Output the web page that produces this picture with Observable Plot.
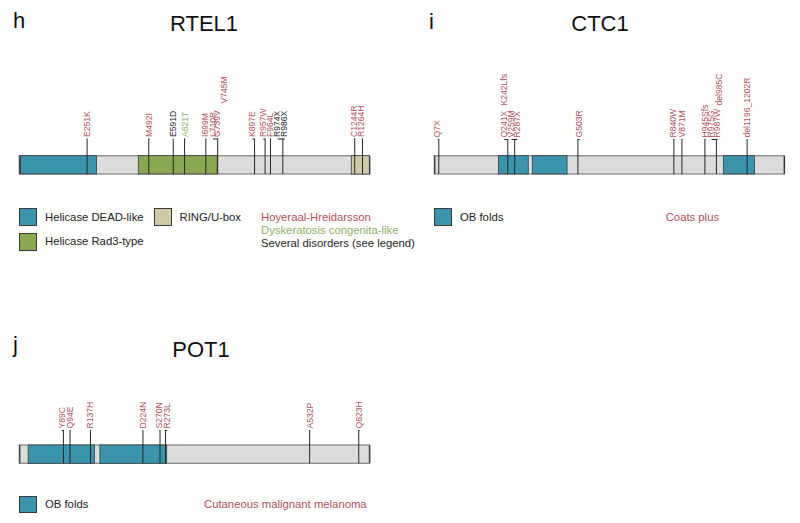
<!DOCTYPE html>
<html><head><meta charset="utf-8">
<script src="https://cdn.jsdelivr.net/npm/d3@7"></script>
<script src="https://cdn.jsdelivr.net/npm/@observablehq/plot@0.6"></script>
<style>
body{margin:0;background:#fff;font-family:"Liberation Sans",Arial,sans-serif;}
#fig{position:relative;width:800px;height:523px;overflow:hidden;}
.t{position:absolute;white-space:nowrap;}
.sw{position:absolute;width:18px;height:18px;border:1px solid #3a3a3a;box-sizing:border-box;}
.panel{position:absolute;}
</style></head><body><div id="fig"></div>
<script>
// ---------------- DATA ----------------
// RTEL1
const rtelLength = 1300;
const rtelDomainNames = ["Helicase DEAD-like", "Helicase Rad3-type", "RING/U-box"];
const rtelDomainStart = [4, 442, 1233];
const rtelDomainEnd = [287, 735, 1300];
const rtelMutations = ["E251K","M492I","E591D","A621T","I699M","L710R","G739V","V745M","K897E","R957W","F964L","R974X","R986X","C1244R","R1264H"];
const rtelSites     = [250, 479, 570, 612, 691, 735, 735, 735, 872, 911, 931, 977, 977, 1244, 1273];
const rtelLabelAt   = [249, 482, 570, 614, 690, 718, 733, 758, 864, 904, 929, 958, 984, 1241, 1270];
const rtelTier      = [1,1,1,1,1,1,1,2,1,1,1,1,1,1,1];
const rtelDisease   = ["HH","HH","SEV","DC","HH","HH","HH","HH","HH","HH","HH","SEV","SEV","HH","HH"];
const rtelDiseaseNames = ["Hoyeraal-Hreidarsson", "Dyskeratosis congenita-like", "Several disorders (see legend)"];

// CTC1
const ctcLength = 1217;
const ctcDomainNames = ["OB folds", "OB folds", "OB folds"];
const ctcDomainStart = [223, 341, 1006];
const ctcDomainEnd = [327, 462, 1114];
const ctcMutations = ["Q7X","Q241X","K242Lfs","V259M","R287X","G503R","R840W","V871M","H945Sfs","R975G","R987W","del985C","del1196_1202R"];
const ctcSites     = [14, 254, 254, 278, 278, 498, 832, 860, 940, 980, 980, 980, 1087];
const ctcLabelAt   = [10, 242, 243, 267, 287, 504, 830, 862, 942, 963, 984, 990, 1087];
const ctcTier      = [1,1,2,1,1,1,1,1,1,1,1,2,1];
const ctcDiseaseNames = ["Coats plus"];

// POT1
const potLength = 634;
const potDomainNames = ["OB folds", "OB folds"];
const potDomainStart = [16, 146];
const potDomainEnd = [136, 267];
const potMutations = ["Y89C","Q94E","R137H","D224N","S270N","R273L","A532P","Q623H"];
const potSites     = [79, 91, 128, 223, 254, 264, 525, 614];
const potLabelAt   = [76, 92, 128, 223, 253, 267, 526, 615];
const potDiseaseNames = ["Cutaneous malignant melanoma"];

// ---------------- STYLE ----------------
const C = {
  teal: "#3a95ac", green: "#8aa852", beige: "#d0caa8", gray: "#dcdcdc",
  red: "#ad4f5a", dcGreen: "#90b062", black: "#1e1e1e"
};
const domainColor = {"Helicase DEAD-like": C.teal, "Helicase Rad3-type": C.green, "RING/U-box": C.beige, "OB folds": C.teal};
const diseaseColor = {HH: C.red, DC: C.dcGreen, SEV: C.black, CP: C.red, CMM: C.red};
const LEG = 11.3;

const fig = document.getElementById("fig");

function addText(txt, left, baseline, size, color, extra = {}) {
  const d = document.createElement("div");
  d.className = "t";
  d.textContent = txt;
  d.style.fontSize = size + "px";
  d.style.lineHeight = size + "px";
  d.style.color = color;
  d.style.top = (baseline - 0.8465 * size) + "px";
  d.style.left = left + "px";
  Object.assign(d.style, extra);
  fig.appendChild(d);
  return d;
}
function addSwatch(left, top, color, h = 18) {
  const s = document.createElement("div");
  s.className = "sw";
  s.style.left = left + "px"; s.style.top = top + "px";
  s.style.height = h + "px";
  s.style.background = color;
  fig.appendChild(s);
}

function panel(opts) {
  const {length, left, top, width, height, marginLeft, marginRight, barTop, barBottom, labelBase, tier2Base, domains, muts} = opts;
  const lineTop = labelBase + 2;
  const t1 = muts.filter(d => d.tier === 1);
  const sites = Array.from(new Set(t1.map(d => d.site))).map(s => ({site: s}));
  const brackets = t1.filter(d => d.labelAt !== d.site);
  const chart = Plot.plot({
    width, height,
    marginLeft, marginRight, marginTop: 0, marginBottom: 0,
    x: {domain: [0, length], axis: null},
    y: {domain: [0, height], range: [0, height], axis: null},
    color: {type: "identity"},
    style: {background: "transparent", fontFamily: "'Liberation Sans', Arial, sans-serif", overflow: "visible"},
    marks: [
      Plot.rect([{start: 0, end: length}], {x1: "start", x2: "end", y1: barTop, y2: barBottom, fill: C.gray, stroke: "#8a8a8a", strokeWidth: 1.3}),
      Plot.rect(domains, {x1: "start", x2: "end", y1: barTop, y2: barBottom, fill: "fill", stroke: "#3c3c3c", strokeWidth: 0.8}),
      Plot.ruleX([0, length], {y1: barTop, y2: barBottom, stroke: "#333", strokeWidth: 1.2}),
      Plot.ruleX(sites, {x: "site", y1: lineTop, y2: barBottom, stroke: "#262626", strokeWidth: 1}),
      Plot.link(brackets, {x1: "labelAt", x2: "site", y1: lineTop, y2: lineTop, stroke: "#262626", strokeWidth: 1}),
      Plot.text(muts, {x: "labelAt", y: d => d.tier === 1 ? labelBase : tier2Base, text: "name", rotate: -90, textAnchor: "start", fill: "color", fontSize: 8.6})
    ]
  });
  chart.classList.add("panel");
  chart.style.left = left + "px";
  chart.style.top = top + "px";
  fig.appendChild(chart);
}

// ---------------- RTEL1 (h) ----------------
addText("h", 13, 29, 22, "#111");
addText("RTEL1", 204, 32, 22, "#111", {transform: "translateX(-50%)"});
panel({
  length: rtelLength, left: 0, top: 60, width: 400, height: 120,
  marginLeft: 19.3, marginRight: 30.7, barTop: 95.7, barBottom: 114,
  labelBase: 76.5, tier2Base: 43,
  domains: rtelDomainNames.map((n, i) => ({start: rtelDomainStart[i], end: rtelDomainEnd[i], fill: domainColor[n]})),
  muts: rtelMutations.map((n, i) => ({name: n, site: rtelSites[i], labelAt: rtelLabelAt[i], tier: rtelTier[i], color: diseaseColor[rtelDisease[i]]}))
});
addSwatch(19, 208, domainColor[rtelDomainNames[0]]);
addText(rtelDomainNames[0], 45, 222, LEG, "#222");
addSwatch(19, 233, domainColor[rtelDomainNames[1]]);
addText(rtelDomainNames[1], 45, 245.5, LEG, "#222");
addSwatch(154, 208, domainColor[rtelDomainNames[2]]);
addText(rtelDomainNames[2], 179.5, 222, LEG, "#222");
addText(rtelDiseaseNames[0], 261, 221.7, LEG, C.red);
addText(rtelDiseaseNames[1], 261, 234.5, LEG, C.dcGreen);
addText(rtelDiseaseNames[2], 261, 247.5, LEG, C.black);

// ---------------- CTC1 (i) ----------------
addText("i", 429, 30, 22, "#111");
addText("CTC1", 600, 32, 22, "#111", {transform: "translateX(-50%)"});
panel({
  length: ctcLength, left: 400, top: 60, width: 400, height: 120,
  marginLeft: 34.3, marginRight: 16, barTop: 95.7, barBottom: 114,
  labelBase: 77, tier2Base: 45,
  domains: ctcDomainNames.map((n, i) => ({start: ctcDomainStart[i], end: ctcDomainEnd[i], fill: domainColor[n]})),
  muts: ctcMutations.map((n, i) => ({name: n, site: ctcSites[i], labelAt: ctcLabelAt[i], tier: ctcTier[i], color: diseaseColor.CP}))
});
addSwatch(434, 208, domainColor[ctcDomainNames[0]]);
addText(ctcDomainNames[0], 460, 222, LEG, "#222");
addText(ctcDiseaseNames[0], 665.7, 221.7, LEG, C.red);

// ---------------- POT1 (j) ----------------
addText("j", 13, 353, 22, "#111");
addText("POT1", 201, 358, 22, "#111", {transform: "translateX(-50%)"});
panel({
  length: potLength, left: 0, top: 380, width: 400, height: 90,
  marginLeft: 19.3, marginRight: 30.7, barTop: 65, barBottom: 83.3,
  labelBase: 48, tier2Base: 20,
  domains: potDomainNames.map((n, i) => ({start: potDomainStart[i], end: potDomainEnd[i], fill: domainColor[n]})),
  muts: potMutations.map((n, i) => ({name: n, site: potSites[i], labelAt: potLabelAt[i], tier: 1, color: diseaseColor.CMM}))
});
addSwatch(19, 496, domainColor[potDomainNames[0]], 17);
addText(potDomainNames[0], 45, 509, LEG, "#222");
addText(potDiseaseNames[0], 204, 509, LEG, C.red);
</script>
</body></html>
